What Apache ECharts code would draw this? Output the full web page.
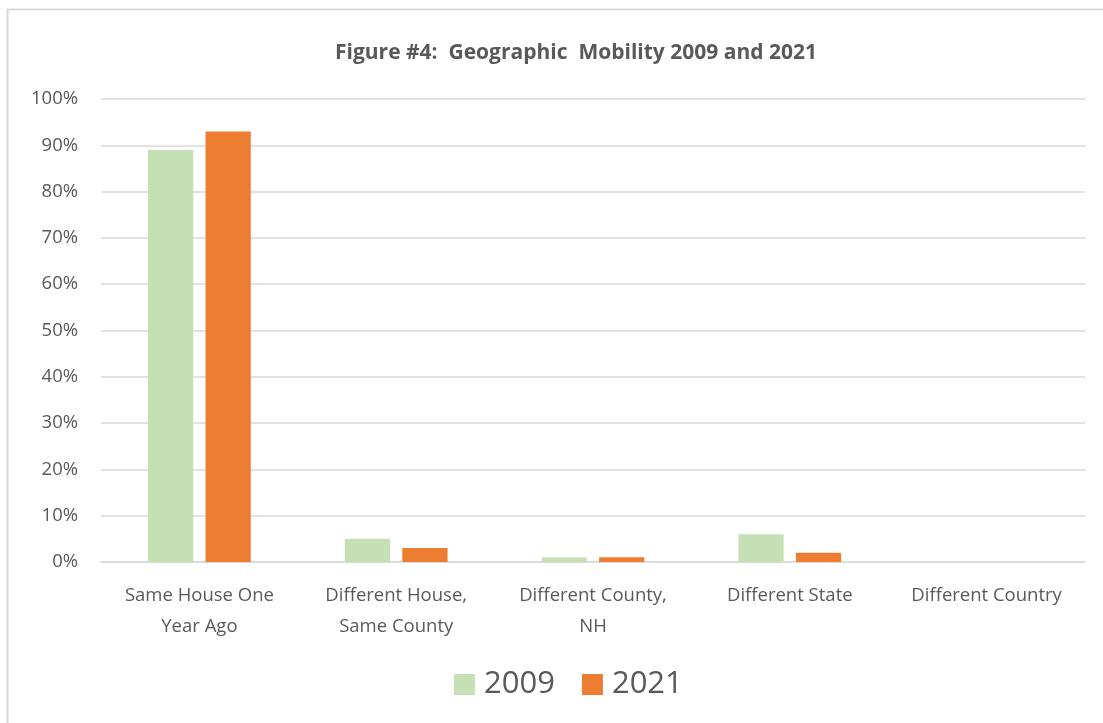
<!DOCTYPE html>
<html><head><meta charset="utf-8">
<script src="https://cdn.jsdelivr.net/npm/echarts@6/dist/echarts.min.js"></script>
<style>html,body{margin:0;padding:0;background:#fff}#c{width:1103px;height:723px}</style>
</head><body><div id="c"></div>
<script>
const categories = ["Same House One\nYear Ago", "Different House,\nSame County", "Different County,\nNH", "Different State", "Different Country"];
const series2009 = [89, 5, 1, 6, 0];
const series2021 = [93, 3, 1, 2, 0];
const yTicks = [0, 10, 20, 30, 40, 50, 60, 70, 80, 90, 100];
const titleText = "Figure #4:  Geographic  Mobility 2009 and 2021";
const font = "'Open Sans', sans-serif";
const chart = echarts.init(document.getElementById('c'));
chart.setOption({
  animation: false,
  title: { text: titleText, left: 330, top: 38, textStyle: { fontFamily: font, fontSize: 21, fontWeight: 'bold', color: '#595959' } },
  graphic: [{ type: 'rect', shape: { x: 7.5, y: 9.5, width: 1110, height: 730 }, style: { fill: 'none', stroke: '#d9d9d9', lineWidth: 2 }, silent: true }],
  grid: { left: 101, right: 18, top: 99, bottom: 161, containLabel: false },
  xAxis: { type: 'category', data: categories,
    axisLine: { lineStyle: { color: '#d9d9d9', width: 1.5 } }, axisTick: { show: false },
    axisLabel: { fontFamily: font, fontSize: 18.5, color: '#595959', margin: 18, lineHeight: 31, interval: 0 } },
  yAxis: { type: 'value', min: 0, max: 100, interval: 10,
    axisLabel: { fontFamily: font, fontSize: 18.5, color: '#595959', margin: 23, formatter: v => yTicks.includes(v) ? v + '%' : '' },
    splitLine: { lineStyle: { color: '#d9d9d9', width: 1.5 } }, axisLine: { show: false }, axisTick: { show: false } },
  legend: { top: 664, left: 449, itemWidth: 21, itemHeight: 21, itemGap: 27, icon: 'rect',
    textStyle: { fontFamily: font, fontSize: 31, color: '#595959', padding: [0, 0, 0, 4] } },
  series: [
    { name: '2009', type: 'bar', data: series2009, barWidth: '23%', barGap: '27%', itemStyle: { color: '#c5e0b4' } },
    { name: '2021', type: 'bar', data: series2021, barWidth: '23%', barGap: '27%', itemStyle: { color: '#ed7d31' } }
  ]
});
</script></body></html>
